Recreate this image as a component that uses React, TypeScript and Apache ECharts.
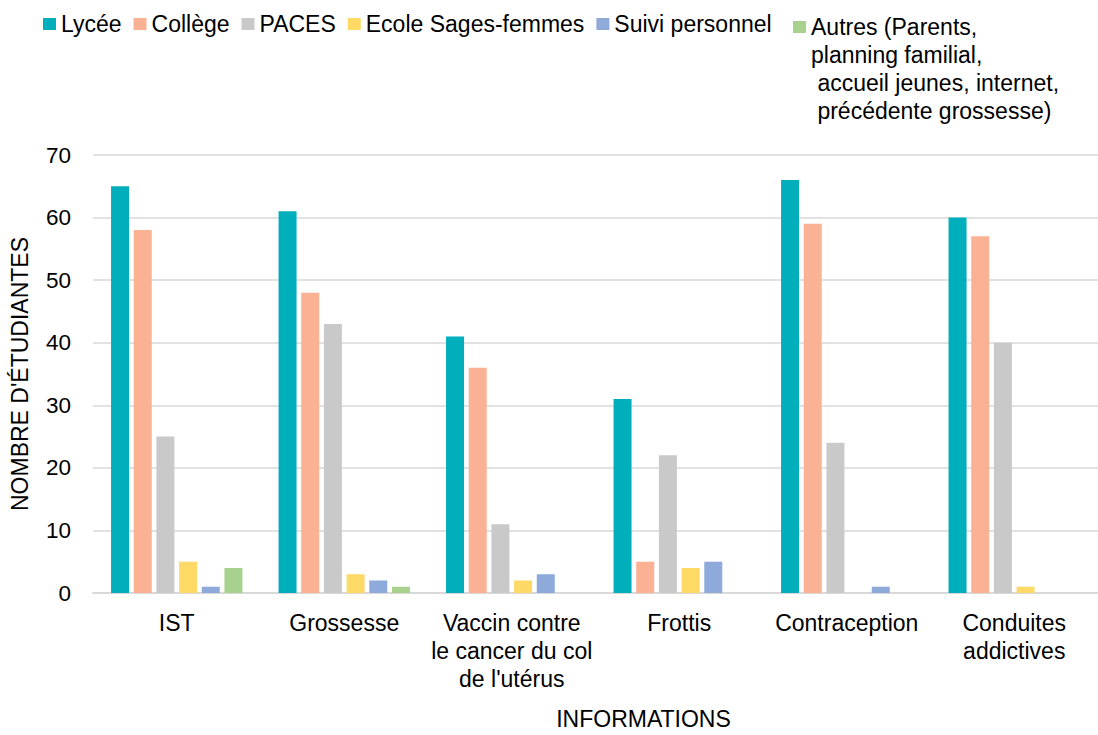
import React, { useEffect, useRef } from "react";
import * as echarts from "echarts";

const categories = [
  "IST",
  "Grossesse",
  "Vaccin contre\nle cancer du col\nde l'utérus",
  "Frottis",
  "Contraception",
  "Conduites\naddictives",
];
const seriesNames = [
  "Lycée",
  "Collège",
  "PACES",
  "Ecole Sages-femmes",
  "Suivi personnel",
  "Autres (Parents,\nplanning familial,\n accueil jeunes, internet,\n précédente grossesse)",
];
const lycee = [65, 61, 41, 31, 66, 60];
const college = [58, 48, 36, 5, 59, 57];
const paces = [25, 43, 11, 22, 24, 40];
const ecoleSF = [5, 3, 2, 4, 0, 1];
const suivi = [1, 2, 3, 5, 1, 0];
const autres = [4, 1, 0, 0, 0, 0];
const colors = ["#00AFBB", "#FBB193", "#C9C9C9", "#FFD966", "#8EAADB", "#A9D18E"];
const yTicks = [0, 10, 20, 30, 40, 50, 60, 70];

const FONT = "Liberation Sans, Arial, sans-serif";
// square icon placed at the top of a tall (4-line) legend item box
const TALL_ICON = "path://M0 8H13V20H0Z M0 0H0.01V0.01H0Z M0 112H0.01V112.01H0Z";

export default function App() {
  const ref = useRef<HTMLDivElement>(null);
  useEffect(() => {
    if (!ref.current) return;
    const chart = echarts.init(ref.current, undefined, { renderer: "svg" });
    const values = [lycee, college, paces, ecoleSF, suivi, autres];
    chart.setOption({
      animation: false,
      textStyle: { fontFamily: FONT },
      legend: [
        {
          data: seriesNames.slice(0, 5),
          left: 43,
          top: 10,
          padding: 0,
          itemWidth: 13,
          itemHeight: 12,
          itemGap: 12,
          icon: "rect",
          textStyle: { fontSize: 23, lineHeight: 28, color: "#000", fontFamily: FONT },
        },
        {
          data: [seriesNames[5]],
          left: 793,
          top: 13,
          padding: 0,
          itemWidth: 13,
          itemHeight: 112,
          icon: TALL_ICON,
          textStyle: { fontSize: 23, lineHeight: 28, color: "#000", fontFamily: FONT },
        },
      ],
      grid: { left: 89, right: -12, top: 155, bottom: 138, containLabel: false },
      xAxis: {
        type: "category",
        data: categories,
        axisTick: { show: false },
        axisLine: { lineStyle: { color: "#D9D9D9", width: 2 } },
        axisLabel: {
          interval: 0,
          fontSize: 23,
          lineHeight: 28,
          color: "#000",
          margin: 16,
          fontFamily: FONT,
        },
        name: "INFORMATIONS",
        nameLocation: "middle",
        nameGap: 114,
        nameTextStyle: { fontSize: 23, color: "#000", fontFamily: FONT, padding: [0, 0, 0, 96] },
      },
      yAxis: {
        type: "value",
        min: yTicks[0],
        max: yTicks[yTicks.length - 1],
        interval: 10,
        axisLine: { show: false },
        axisTick: { show: false },
        splitLine: { lineStyle: { color: "#D9D9D9", width: 1.5 } },
        axisLabel: { fontSize: 22.5, color: "#000", margin: 22, fontFamily: FONT },
        name: "NOMBRE D'ÉTUDIANTES",
        nameLocation: "middle",
        nameGap: 62,
        nameRotate: 90,
        nameTextStyle: { fontSize: 23, color: "#000", fontFamily: FONT },
      },
      series: seriesNames.map((name, i) => ({
        name,
        type: "bar",
        data: values[i],
        barWidth: 18,
        barGap: "26%",
        itemStyle: { color: colors[i] },
      })),
    });
    return () => chart.dispose();
  }, []);
  return (
    <div
      ref={ref}
      style={{ position: "absolute", left: 0, top: 0, width: 1098, height: 735 }}
    />
  );
}
